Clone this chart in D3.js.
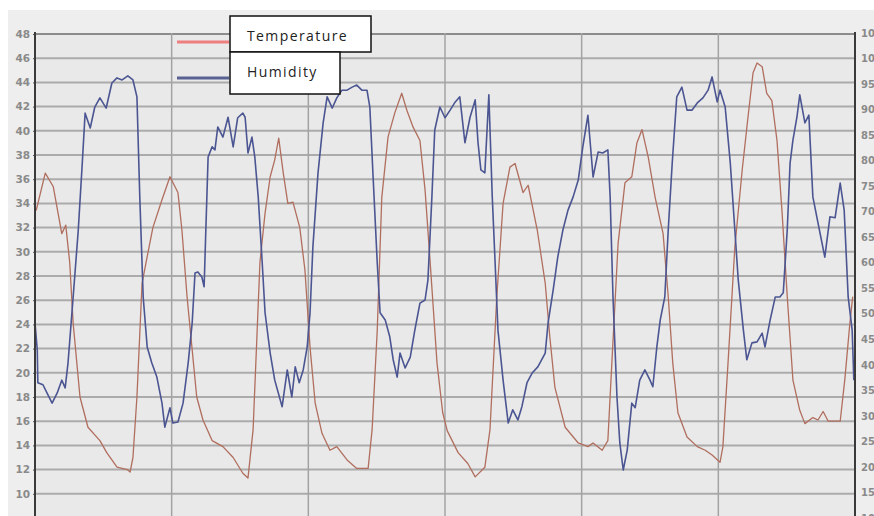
<!DOCTYPE html>
<html>
<head>
<meta charset="utf-8">
<script src="https://cdn.jsdelivr.net/npm/d3@7"></script>
<style>
  html, body { margin: 0; padding: 0; background: #ffffff; }
  svg { display: block; }
  .tick text { font-family: "DejaVu Sans", sans-serif; font-weight: bold; font-size: 10.5px; fill: #8a8a8a; }
  .legend text { font-family: "Open Sans", sans-serif; font-size: 14px; letter-spacing: 1.4px; fill: #222; }
</style>
</head>
<body>
<svg id="chart" width="874" height="516"></svg>
<script>
// Six days of readings, time measured in hours from the start of the log.
const tempHours = [0.2,1.8,3.2,4.7,5.4,6.1,6.7,7.9,9.3,11.4,12.6,14.4,16.2,16.7,17.2,17.9,18.8,19.7,20.7,22.3,23.7,25.1,25.8,26.7,27.6,28.4,29.5,31.1,33.0,34.8,36.5,37.4,38.3,39.5,40.4,41.3,42.1,42.8,43.6,44.4,45.3,46.5,47.4,48.3,49.2,50.4,51.8,53.0,54.8,56.5,58.5,59.2,60.1,60.9,62.0,63.2,64.4,65.3,66.4,67.6,68.5,69.4,70.6,71.6,72.4,74.3,76.0,77.3,79.0,79.9,81.1,82.2,83.4,84.3,85.7,86.6,88.2,89.6,90.4,91.3,93.1,95.4,97.1,98.0,99.6,100.6,101.3,102.4,103.6,104.8,105.7,106.6,107.7,108.9,110.3,111.2,112.0,112.9,114.5,116.3,117.7,118.9,120.3,120.8,121.7,122.9,124.2,125.2,126.1,126.8,127.7,128.5,129.4,130.3,131.2,132.1,133.1,134.3,135.2,136.6,137.5,138.4,139.3,140.5,141.4,142.2,143.1,143.6];
const temperature = [33.4,36.5,35.4,31.5,32.2,29.1,24.1,18.0,15.5,14.4,13.4,12.2,12.0,11.8,13.0,18.0,27.4,29.6,32.0,34.3,36.2,34.9,31.8,26.3,21.9,18.0,16.1,14.4,13.9,13.0,11.7,11.3,15.3,29.1,33.2,36.2,37.6,39.4,36.5,34.0,34.1,32.0,28.5,22.1,17.5,15.0,13.6,13.9,12.8,12.1,12.1,15.3,23.5,34.5,39.5,41.5,43.1,41.7,40.3,39.2,35.1,29.1,20.8,16.7,15.2,13.4,12.5,11.4,12.2,15.3,26.3,34.0,37.0,37.3,34.9,35.5,31.8,27.4,23.0,18.8,15.5,14.2,13.9,14.2,13.6,14.4,20.8,30.7,35.7,36.2,39.0,40.1,37.8,34.5,31.5,26.3,20.8,16.7,14.7,13.9,13.6,13.2,12.6,13.9,20.8,30.4,36.8,41.1,44.8,45.6,45.3,43.1,42.5,39.2,33.2,26.3,19.4,16.9,15.8,16.3,16.1,16.8,16.0,16.0,16.0,19.4,24.1,26.3];

const humHours = [0.0,0.4,0.5,1.4,2.1,3.0,3.9,4.7,5.3,5.8,6.7,7.6,8.3,8.8,9.7,10.5,11.4,12.5,13.5,14.4,15.3,16.3,17.2,17.9,18.4,19.0,19.7,20.5,21.4,22.3,22.8,23.7,24.2,25.1,26.0,26.9,27.6,28.1,28.6,29.3,29.7,30.0,30.4,31.1,31.6,32.1,33.0,33.9,34.8,35.6,36.5,36.9,37.4,38.1,38.6,39.2,39.9,40.4,41.3,42.1,43.4,44.3,45.1,45.7,46.4,47.1,47.8,48.3,48.8,49.7,50.6,51.3,52.2,53.0,53.9,54.8,55.7,56.5,57.4,58.3,58.8,59.4,60.1,60.6,61.5,62.3,62.9,63.6,64.1,65.0,65.9,66.7,67.6,68.5,69.0,69.7,70.2,71.1,72.0,72.9,73.8,74.6,75.5,76.4,77.3,77.8,78.3,79.0,79.7,80.3,80.8,81.3,82.2,83.1,83.9,84.8,85.5,86.4,87.3,88.3,89.6,90.1,91.0,91.8,92.7,93.6,94.5,95.4,96.2,97.1,98.0,98.9,99.7,100.6,101.0,101.5,102.2,102.7,103.3,104.0,104.8,105.4,106.2,107.1,108.0,108.5,109.2,109.8,110.6,111.2,111.9,112.7,113.6,114.5,115.4,116.3,117.3,118.2,118.9,119.8,120.3,121.2,122.1,122.9,123.5,124.4,125.0,125.9,126.8,127.7,128.2,129.1,130.0,130.8,131.4,132.1,132.6,133.1,133.8,134.3,135.2,135.9,136.6,137.5,138.7,139.6,140.5,141.4,142.1,142.8,143.5,143.8];
const humidity = [48.2,42.9,36.5,36.1,34.5,32.5,34.5,37.0,35.5,40.4,53.3,66.4,79.5,89.3,86.4,90.5,92.3,90.3,95.2,96.2,95.8,96.6,95.8,92.5,72.9,53.3,43.5,40.4,37.6,32.5,27.8,31.6,28.6,28.8,32.5,40.4,48.2,58.0,58.2,57.2,55.3,66.4,80.7,82.7,82.1,86.6,84.6,88.5,82.7,88.4,89.3,88.5,81.5,84.6,80.7,72.9,60.0,50.2,42.3,37.0,31.8,39.0,33.7,39.6,36.5,39.0,43.5,50.2,63.1,77.6,87.4,92.5,90.3,92.3,93.8,93.8,94.4,94.8,93.8,93.8,90.5,76.2,60.0,50.2,48.8,45.5,41.0,37.6,42.3,39.4,41.5,46.8,52.1,52.7,56.6,72.9,86.0,90.5,88.4,89.9,91.5,92.5,83.5,88.5,91.9,83.5,78.2,77.6,92.9,72.9,60.0,46.8,37.0,28.6,31.2,29.2,31.8,36.5,38.4,39.6,42.3,48.2,54.7,61.1,66.4,70.3,72.9,76.2,82.7,88.9,76.8,81.7,81.5,82.1,72.9,53.3,33.7,24.7,19.4,23.3,32.5,31.6,37.0,39.0,37.0,35.7,43.5,48.8,53.3,66.4,79.5,92.5,94.4,89.9,89.9,91.3,92.3,93.8,96.4,91.5,93.8,90.5,79.5,66.4,56.6,46.8,41.0,44.3,44.5,46.2,43.5,48.8,53.3,53.3,54.1,66.4,79.5,84.0,88.5,92.9,87.4,88.9,72.9,67.8,61.1,69.0,68.8,75.6,70.3,53.3,46.8,37.0];

// Axis ticks: temperature on the left, humidity on the right, day boundaries on x.
const tempTicks = d3.range(8, 49, 2);
const tempLabels = d3.range(10, 49, 2);
const humTicks = d3.range(10, 106, 5);
const dayTicks = d3.range(0, 145, 24);

const series = ["Temperature", "Humidity"];
const seriesColors = { Temperature: "#b06e5e", Humidity: "#4b5592" };
const legendColors = { Temperature: "#ee7f7f", Humidity: "#5a6293" };

const svg = d3.select("#chart");
const W = 874, H = 516;
const plot = { left: 35, right: 855, top: 33, bottom: 518 };

const x = d3.scaleLinear().domain([0, 144]).range([plot.left, plot.right]);
const yT = d3.scaleLinear().domain([8, 48]).range([plot.bottom, plot.top + 1]);
const yH = d3.scaleLinear().domain([10, 105]).range([plot.bottom, plot.top]);

// Chart panel and plot background
svg.append("rect").attr("x", 8).attr("y", 10).attr("width", W - 8).attr("height", H - 10).attr("fill", "#eeeeee");
svg.append("rect").attr("x", plot.left).attr("y", plot.top)
  .attr("width", plot.right - plot.left).attr("height", plot.bottom - plot.top).attr("fill", "#e9e9e9");

svg.append("clipPath").attr("id", "plotClip").append("rect")
  .attr("x", plot.left).attr("y", plot.top).attr("width", plot.right - plot.left).attr("height", plot.bottom - plot.top);

// Horizontal grid from the temperature scale
svg.append("g").selectAll("line").data(tempTicks).join("line")
  .attr("x1", plot.left).attr("x2", plot.right)
  .attr("y1", d => yT(d)).attr("y2", d => yT(d))
  .attr("stroke", d => d === 48 ? "#8c8c8c" : "#ababab")
  .attr("stroke-width", 2);

// Vertical day lines
svg.append("g").selectAll("line").data(dayTicks.slice(1, -1)).join("line")
  .attr("x1", d => x(d)).attr("x2", d => x(d))
  .attr("y1", plot.top).attr("y2", plot.bottom)
  .attr("stroke", "#a3a3a3").attr("stroke-width", 1.5);

// Series lines
const g = svg.append("g").attr("clip-path", "url(#plotClip)");
const tempLine = d3.line().x((d, i) => x(tempHours[i])).y(d => yT(d));
const humLine = d3.line().x((d, i) => x(humHours[i])).y(d => yH(d));
g.append("path").datum(temperature).attr("d", tempLine)
  .attr("fill", "none").attr("stroke", seriesColors.Temperature).attr("stroke-width", 1.3).attr("stroke-linejoin", "round");
g.append("path").datum(humidity).attr("d", humLine)
  .attr("fill", "none").attr("stroke", seriesColors.Humidity).attr("stroke-width", 1.6).attr("stroke-linejoin", "round");

// Left axis (temperature)
const axL = svg.append("g").attr("transform", `translate(${plot.left},0)`)
  .call(d3.axisLeft(yT).tickValues(tempLabels).tickSize(2).tickPadding(3).tickFormat(d3.format("d")));
axL.select(".domain").remove();
axL.selectAll(".tick line").attr("stroke", "#555");
svg.append("line").attr("x1", plot.left).attr("x2", plot.left).attr("y1", plot.top - 1).attr("y2", plot.bottom)
  .attr("stroke", "#3a3a3a").attr("stroke-width", 2);

// Right axis (humidity); labels run to the window edge
const axR = svg.append("g").attr("transform", `translate(${plot.right},0)`)
  .call(d3.axisRight(yH).tickValues(humTicks).tickSize(0).tickPadding(6).tickFormat(d3.format("d")));
axR.select(".domain").remove();
axR.selectAll(".tick text").style("font-size", "10px");
svg.append("line").attr("x1", plot.right).attr("x2", plot.right).attr("y1", plot.top - 1).attr("y2", plot.bottom)
  .attr("stroke", "#3a3a3a").attr("stroke-width", 2);

// Legend
const legend = svg.append("g").attr("class", "legend");
const legendRows = [
  { name: series[0], y: 42, box: { x: 230, y: 16, w: 141, h: 36 }, ty: 41 },
  { name: series[1], y: 78, box: { x: 230, y: 52, w: 110, h: 42 }, ty: 77 }
];
legend.selectAll("line").data(legendRows).join("line")
  .attr("x1", 177).attr("x2", 229).attr("y1", d => d.y).attr("y2", d => d.y)
  .attr("stroke", d => legendColors[d.name]).attr("stroke-width", 3);
legend.selectAll("rect").data(legendRows).join("rect")
  .attr("x", d => d.box.x).attr("y", d => d.box.y).attr("width", d => d.box.w).attr("height", d => d.box.h)
  .attr("fill", "#ffffff").attr("stroke", "#111").attr("stroke-width", 1.5);
legend.selectAll("text").data(legendRows).join("text")
  .attr("x", 247).attr("y", d => d.ty).text(d => d.name);
</script>
</body>
</html>
